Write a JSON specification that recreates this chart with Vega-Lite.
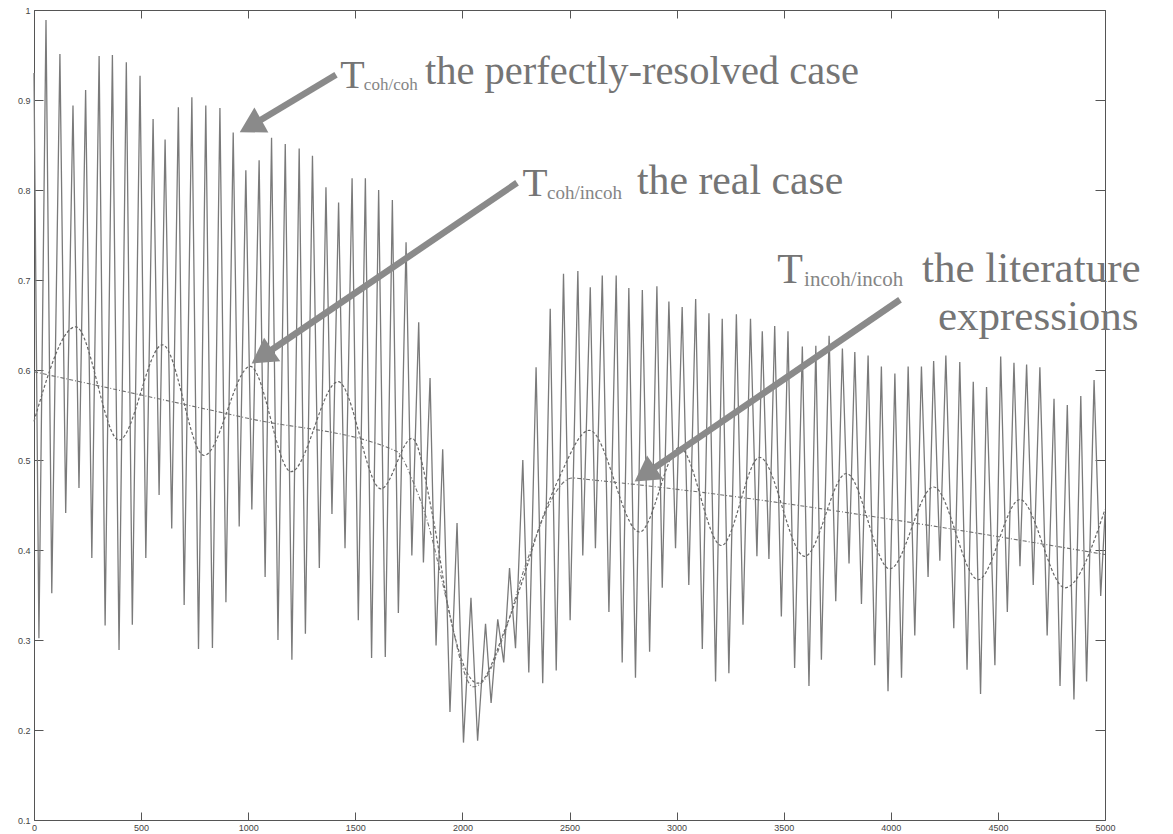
{
  "$schema": "https://vega.github.io/schema/vega-lite/v6.json",
  "width": 1071,
  "height": 810,
  "autosize": "none",
  "padding": {"left": 34, "top": 10, "right": 68, "bottom": 14},
  "background": "white",
  "config": {
    "view": {"stroke": "#555555", "strokeWidth": 1},
    "axis": {
      "grid": false,
      "domain": false,
      "tickColor": "#555555",
      "tickWidth": 1,
      "labelFont": "Liberation Sans",
      "labelFontSize": 9,
      "labelColor": "#444444",
      "title": null
    }
  },
  "resolve": {"scale": {"size": "independent"}},
  "datasets": {
    "cohcoh": [
      {"n": 0, "t": 0.93}, {"n": 23, "t": 0.302}, {"n": 56, "t": 0.989}, {"n": 83, "t": 0.352},
      {"n": 121, "t": 0.951}, {"n": 148, "t": 0.441}, {"n": 182, "t": 0.894}, {"n": 210, "t": 0.469},
      {"n": 241, "t": 0.911}, {"n": 270, "t": 0.391}, {"n": 304, "t": 0.949}, {"n": 332, "t": 0.316},
      {"n": 366, "t": 0.95}, {"n": 397, "t": 0.289}, {"n": 431, "t": 0.942}, {"n": 459, "t": 0.317},
      {"n": 495, "t": 0.927}, {"n": 522, "t": 0.391}, {"n": 556, "t": 0.879}, {"n": 584, "t": 0.461},
      {"n": 612, "t": 0.856}, {"n": 643, "t": 0.424}, {"n": 674, "t": 0.892}, {"n": 701, "t": 0.339},
      {"n": 737, "t": 0.903}, {"n": 768, "t": 0.29}, {"n": 802, "t": 0.894}, {"n": 833, "t": 0.291},
      {"n": 868, "t": 0.891}, {"n": 896, "t": 0.342}, {"n": 930, "t": 0.864}, {"n": 958, "t": 0.426},
      {"n": 989, "t": 0.822}, {"n": 1017, "t": 0.445}, {"n": 1051, "t": 0.833}, {"n": 1079, "t": 0.37},
      {"n": 1109, "t": 0.858}, {"n": 1139, "t": 0.3}, {"n": 1173, "t": 0.851}, {"n": 1204, "t": 0.278},
      {"n": 1238, "t": 0.846}, {"n": 1267, "t": 0.307}, {"n": 1300, "t": 0.838}, {"n": 1332, "t": 0.38},
      {"n": 1363, "t": 0.803}, {"n": 1391, "t": 0.44}, {"n": 1422, "t": 0.786}, {"n": 1452, "t": 0.402},
      {"n": 1485, "t": 0.813}, {"n": 1514, "t": 0.322}, {"n": 1547, "t": 0.813}, {"n": 1576, "t": 0.28},
      {"n": 1609, "t": 0.8}, {"n": 1640, "t": 0.281}, {"n": 1673, "t": 0.789}, {"n": 1701, "t": 0.33},
      {"n": 1737, "t": 0.742}, {"n": 1764, "t": 0.394}, {"n": 1796, "t": 0.653}, {"n": 1818, "t": 0.386},
      {"n": 1849, "t": 0.591}, {"n": 1877, "t": 0.294}, {"n": 1908, "t": 0.512}, {"n": 1942, "t": 0.22},
      {"n": 1975, "t": 0.43}, {"n": 2005, "t": 0.186}, {"n": 2040, "t": 0.347}, {"n": 2071, "t": 0.188},
      {"n": 2108, "t": 0.318}, {"n": 2134, "t": 0.23}, {"n": 2165, "t": 0.323}, {"n": 2193, "t": 0.275},
      {"n": 2220, "t": 0.38}, {"n": 2248, "t": 0.291}, {"n": 2282, "t": 0.5}, {"n": 2310, "t": 0.264},
      {"n": 2344, "t": 0.603}, {"n": 2375, "t": 0.252}, {"n": 2410, "t": 0.668}, {"n": 2438, "t": 0.266},
      {"n": 2472, "t": 0.707}, {"n": 2503, "t": 0.322}, {"n": 2539, "t": 0.71}, {"n": 2562, "t": 0.394},
      {"n": 2597, "t": 0.692}, {"n": 2621, "t": 0.402}, {"n": 2653, "t": 0.705}, {"n": 2684, "t": 0.331},
      {"n": 2718, "t": 0.705}, {"n": 2746, "t": 0.275}, {"n": 2777, "t": 0.691}, {"n": 2808, "t": 0.258},
      {"n": 2840, "t": 0.689}, {"n": 2874, "t": 0.287}, {"n": 2908, "t": 0.693}, {"n": 2933, "t": 0.358},
      {"n": 2964, "t": 0.676}, {"n": 2995, "t": 0.402}, {"n": 3026, "t": 0.67}, {"n": 3057, "t": 0.361},
      {"n": 3089, "t": 0.679}, {"n": 3120, "t": 0.29}, {"n": 3151, "t": 0.663}, {"n": 3182, "t": 0.254},
      {"n": 3213, "t": 0.657}, {"n": 3244, "t": 0.263}, {"n": 3279, "t": 0.662}, {"n": 3310, "t": 0.317},
      {"n": 3345, "t": 0.657}, {"n": 3375, "t": 0.393}, {"n": 3400, "t": 0.643}, {"n": 3431, "t": 0.39},
      {"n": 3458, "t": 0.649}, {"n": 3489, "t": 0.326}, {"n": 3520, "t": 0.643}, {"n": 3551, "t": 0.269},
      {"n": 3587, "t": 0.626}, {"n": 3618, "t": 0.249}, {"n": 3650, "t": 0.627}, {"n": 3676, "t": 0.278},
      {"n": 3712, "t": 0.638}, {"n": 3743, "t": 0.343}, {"n": 3774, "t": 0.624}, {"n": 3805, "t": 0.385},
      {"n": 3832, "t": 0.62}, {"n": 3863, "t": 0.34}, {"n": 3894, "t": 0.616}, {"n": 3925, "t": 0.272},
      {"n": 3956, "t": 0.604}, {"n": 3987, "t": 0.243}, {"n": 4019, "t": 0.596}, {"n": 4050, "t": 0.258},
      {"n": 4081, "t": 0.604}, {"n": 4112, "t": 0.305}, {"n": 4143, "t": 0.604}, {"n": 4174, "t": 0.37},
      {"n": 4200, "t": 0.61}, {"n": 4229, "t": 0.388}, {"n": 4257, "t": 0.616}, {"n": 4294, "t": 0.313},
      {"n": 4322, "t": 0.609}, {"n": 4356, "t": 0.267}, {"n": 4385, "t": 0.587}, {"n": 4419, "t": 0.24},
      {"n": 4447, "t": 0.581}, {"n": 4486, "t": 0.272}, {"n": 4513, "t": 0.615}, {"n": 4544, "t": 0.331},
      {"n": 4575, "t": 0.608}, {"n": 4603, "t": 0.382}, {"n": 4634, "t": 0.606}, {"n": 4665, "t": 0.361},
      {"n": 4696, "t": 0.603}, {"n": 4730, "t": 0.305}, {"n": 4762, "t": 0.568}, {"n": 4790, "t": 0.249},
      {"n": 4824, "t": 0.561}, {"n": 4855, "t": 0.234}, {"n": 4887, "t": 0.571}, {"n": 4914, "t": 0.254},
      {"n": 4949, "t": 0.589}, {"n": 4980, "t": 0.349}, {"n": 5000, "t": 0.44}
    ],
    "cohincoh": [
      {"n": 0, "t": 0.543}, {"n": 195, "t": 0.648}, {"n": 397, "t": 0.522}, {"n": 600, "t": 0.628},
      {"n": 794, "t": 0.505}, {"n": 1010, "t": 0.604}, {"n": 1200, "t": 0.487}, {"n": 1420, "t": 0.587},
      {"n": 1620, "t": 0.468}, {"n": 1765, "t": 0.524}, {"n": 1862, "t": 0.437}, {"n": 1939, "t": 0.33},
      {"n": 2071, "t": 0.252}, {"n": 2204, "t": 0.315}, {"n": 2282, "t": 0.367}, {"n": 2360, "t": 0.426},
      {"n": 2453, "t": 0.481}, {"n": 2593, "t": 0.533}, {"n": 2827, "t": 0.42}, {"n": 3014, "t": 0.514},
      {"n": 3209, "t": 0.405}, {"n": 3388, "t": 0.503}, {"n": 3598, "t": 0.393}, {"n": 3793, "t": 0.485},
      {"n": 3995, "t": 0.379}, {"n": 4200, "t": 0.47}, {"n": 4408, "t": 0.367}, {"n": 4603, "t": 0.456},
      {"n": 4813, "t": 0.358}, {"n": 5000, "t": 0.445}
    ],
    "incohincoh": [
      {"n": 0, "t": 0.598}, {"n": 1005, "t": 0.546}, {"n": 1690, "t": 0.51}, {"n": 1780, "t": 0.47},
      {"n": 1830, "t": 0.437}, {"n": 1940, "t": 0.33}, {"n": 2000, "t": 0.27}, {"n": 2050, "t": 0.248},
      {"n": 2100, "t": 0.255}, {"n": 2200, "t": 0.31}, {"n": 2290, "t": 0.38}, {"n": 2514, "t": 0.48},
      {"n": 2600, "t": 0.478}, {"n": 5000, "t": 0.395}
    ],
    "arrows": [
      {"n": 1410, "t": 0.928, "n2": 1011, "t2": 0.871, "heading": 240.8},
      {"n": 2255, "t": 0.808, "n2": 1064, "t2": 0.615, "heading": 235.8},
      {"n": 4043, "t": 0.678, "n2": 2852, "t2": 0.484, "heading": 235.7}
    ],
    "notes": [
      {"n": 1430, "t": 0.9133, "label": "T", "kind": "sym", "group": 1},
      {"n": 1540, "t": 0.9111, "label": "coh/coh", "kind": "sub", "group": 1},
      {"n": 1825, "t": 0.9178, "label": "the perfectly-resolved case", "kind": "body", "group": 1},
      {"n": 2280, "t": 0.7933, "label": "T", "kind": "sym", "group": 2},
      {"n": 2395, "t": 0.79, "label": "coh/incoh", "kind": "sub", "group": 2},
      {"n": 2815, "t": 0.7956, "label": "the real case", "kind": "body", "group": 2},
      {"n": 3470, "t": 0.6967, "label": "T", "kind": "sym", "group": 3},
      {"n": 3595, "t": 0.6933, "label": "incoh/incoh", "kind": "sub", "group": 3},
      {"n": 4146, "t": 0.6978, "label": "the literature", "kind": "body", "group": 3},
      {"n": 4220, "t": 0.6444, "label": "expressions", "kind": "body", "group": 3}
    ]
  },
  "layer": [
    {
      "data": {"name": "cohcoh"},
      "mark": {"type": "line", "color": "#7a7a7a", "strokeWidth": 1.3},
      "encoding": {
        "x": {
          "field": "n", "type": "quantitative",
          "scale": {"domain": [0, 5000], "nice": false},
          "axis": {"orient": "bottom", "values": [0, 500, 1000, 1500, 2000, 2500, 3000, 3500, 4000, 4500, 5000], "format": "d", "tickSize": -8, "labelPadding": 11, "labelFlush": false}
        },
        "y": {
          "field": "t", "type": "quantitative",
          "scale": {"domain": [0.1, 1], "nice": false, "zero": false},
          "axis": {"orient": "left", "values": [0.1, 0.2, 0.3, 0.4, 0.5, 0.6, 0.7, 0.8, 0.9, 1], "format": ".1~f", "tickSize": -9, "labelPadding": 13, "labelFlush": false}
        }
      }
    },
    {
      "data": {"name": "cohincoh"},
      "mark": {"type": "line", "color": "#666666", "strokeWidth": 1.2, "strokeDash": [3, 2], "interpolate": "monotone"},
      "encoding": {
        "x": {"field": "n", "type": "quantitative", "axis": null},
        "y": {"field": "t", "type": "quantitative", "axis": null}
      }
    },
    {
      "data": {"name": "incohincoh"},
      "mark": {"type": "line", "color": "#707070", "strokeWidth": 1.1, "strokeDash": [4, 2, 1, 2], "interpolate": "monotone"},
      "encoding": {
        "x": {
          "field": "n", "type": "quantitative",
          "axis": {"orient": "top", "labels": false, "values": [0, 500, 1000, 1500, 2000, 2500, 3000, 3500, 4000, 4500, 5000], "tickSize": -8}
        },
        "y": {
          "field": "t", "type": "quantitative",
          "axis": {"orient": "right", "labels": false, "values": [0.1, 0.2, 0.3, 0.4, 0.5, 0.6, 0.7, 0.8, 0.9, 1], "tickSize": -10}
        }
      }
    },
    {
      "data": {"name": "arrows"},
      "mark": {"type": "rule", "color": "#8a8a8a", "strokeWidth": 6.5, "strokeCap": "butt"},
      "encoding": {
        "x": {"field": "n", "type": "quantitative", "axis": null},
        "y": {"field": "t", "type": "quantitative", "axis": null},
        "x2": {"field": "n2"},
        "y2": {"field": "t2"}
      }
    },
    {
      "data": {"name": "arrows"},
      "mark": {"type": "point", "shape": "triangle-up", "filled": true, "color": "#8a8a8a", "opacity": 1, "size": 820},
      "encoding": {
        "x": {"field": "n2", "type": "quantitative", "axis": null},
        "y": {"field": "t2", "type": "quantitative", "axis": null},
        "angle": {"field": "heading", "type": "quantitative", "scale": null}
      }
    },
    {
      "data": {"name": "notes"},
      "transform": [{"filter": "datum.kind === 'sym'"}],
      "mark": {"type": "text", "font": "Liberation Serif", "color": "#757575", "align": "left", "baseline": "alphabetic"},
      "encoding": {
        "x": {"field": "n", "type": "quantitative", "axis": null},
        "y": {"field": "t", "type": "quantitative", "axis": null},
        "text": {"field": "label"},
        "size": {"field": "group", "type": "ordinal", "scale": {"domain": [1, 2, 3], "range": [40, 42, 45]}, "legend": null}
      }
    },
    {
      "data": {"name": "notes"},
      "transform": [{"filter": "datum.kind === 'sub'"}],
      "mark": {"type": "text", "font": "Liberation Serif", "color": "#858585", "align": "left", "baseline": "alphabetic"},
      "encoding": {
        "x": {"field": "n", "type": "quantitative", "axis": null},
        "y": {"field": "t", "type": "quantitative", "axis": null},
        "text": {"field": "label"},
        "size": {"field": "group", "type": "ordinal", "scale": {"domain": [1, 2, 3], "range": [17, 21, 23]}, "legend": null}
      }
    },
    {
      "data": {"name": "notes"},
      "transform": [{"filter": "datum.kind === 'body'"}],
      "mark": {"type": "text", "font": "Liberation Serif", "color": "#757575", "align": "left", "baseline": "alphabetic"},
      "encoding": {
        "x": {"field": "n", "type": "quantitative", "axis": null},
        "y": {"field": "t", "type": "quantitative", "axis": null},
        "text": {"field": "label"},
        "size": {"field": "group", "type": "ordinal", "scale": {"domain": [1, 2, 3], "range": [40.5, 43, 47.5]}, "legend": null}
      }
    }
  ]
}
